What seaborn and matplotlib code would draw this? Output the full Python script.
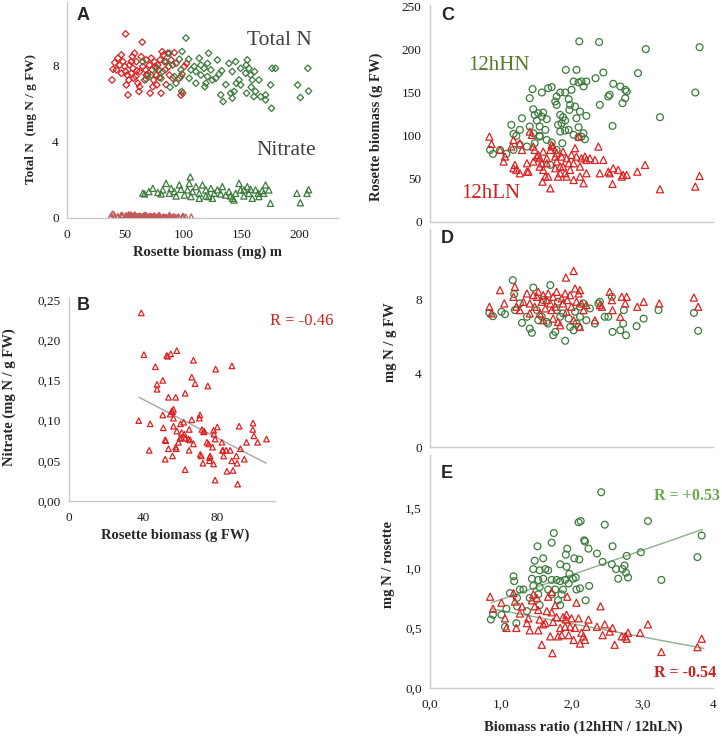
import matplotlib
matplotlib.use("Agg")
import matplotlib.pyplot as plt
import seaborn as sns

#-------------------
# data
#-------------------

# A : total N (mg N / g FW) vs rosette biomass
totn_ln_pts = [(50.4, 9.63), (64.7, 9.20), (39.6, 7.78), (38.7, 7.22), (41.0, 8.13), (43.8, 8.36), (46.7, 8.53),
               (48.1, 8.18), (49.6, 7.93), (50.4, 7.66), (51.0, 6.96), (52.4, 6.44), (53.8, 8.00), (55.3, 7.57),
               (56.2, 8.44), (56.7, 7.83), (58.1, 8.62), (59.0, 7.40), (59.6, 8.18), (60.9, 7.05), (61.8, 6.62),
               (62.4, 7.66), (63.8, 8.44), (65.2, 7.93), (66.7, 7.22), (68.1, 8.27), (69.5, 7.48), (70.9, 8.00),
               (71.5, 6.53), (73.2, 7.75), (74.4, 7.22), (75.2, 8.18), (76.7, 7.48), (77.2, 6.96), (78.0, 8.00),
               (78.9, 7.75), (79.5, 7.35), (80.9, 6.53), (81.8, 8.70), (82.9, 8.53), (83.8, 8.18), (85.2, 6.98),
               (86.6, 8.62), (88.0, 7.48), (89.5, 8.27), (90.9, 7.31), (92.3, 8.65), (93.7, 8.09), (96.6, 7.31),
               (98.9, 7.53), (100.9, 7.93), (102.8, 8.09), (98.0, 6.43), (99.4, 6.53), (46.7, 7.57), (42.5, 7.75),
               (53.2, 7.22), (57.3, 7.31), (60.1, 7.71), (67.5, 7.75), (72.4, 8.36), (76.1, 7.93), (80.1, 8.27),
               (84.4, 7.75), (87.5, 7.93), (62.4, 6.87), (73.8, 6.87), (68.1, 7.48), (55.3, 8.18), (51.8, 7.48),
               (45.3, 8.00)]
totn_hn_pts = [(68.1, 7.27), (76.6, 7.83), (82.3, 7.66), (85.2, 8.18), (88.6, 6.84), (90.9, 8.00), (93.7, 7.05),
               (98.0, 7.40), (98.6, 6.62), (102.3, 9.42), (98.9, 8.71), (104.6, 8.31), (106.6, 7.75), (110.8, 7.66),
               (113.7, 8.36), (115.1, 8.00), (117.9, 7.83), (118.5, 6.87), (120.8, 7.40), (121.7, 8.62), (123.7, 7.75),
               (127.9, 7.31), (129.3, 8.27), (133.0, 7.70), (134.2, 6.09), (136.5, 6.98), (139.3, 8.09), (142.1, 7.66),
               (143.6, 6.62), (145.6, 7.05), (147.9, 7.22), (149.3, 7.83), (145.0, 8.18), (153.6, 7.57), (155.0, 8.27),
               (154.4, 6.53), (158.4, 6.84), (159.3, 7.22), (160.7, 6.35), (162.1, 6.62), (166.4, 6.35), (170.7, 6.18),
               (175.0, 6.96), (176.4, 7.83), (179.2, 7.83), (175.8, 5.74), (170.7, 6.44), (165.0, 7.22), (161.3, 7.66),
               (156.4, 7.83), (198.3, 6.96), (200.6, 6.30), (207.7, 6.64), (207.1, 7.83), (154.1, 8.00), (132.2, 6.44),
               (142.1, 6.27), (140.8, 6.53), (125.0, 7.22), (119.4, 7.05), (115.1, 7.48), (110.8, 7.05), (98.0, 7.75),
               (92.3, 7.40), (80.9, 7.31), (72.4, 7.48), (65.2, 8.18), (96.6, 8.31), (88.0, 8.62), (120.8, 8.09),
               (130.8, 7.53), (149.3, 6.96), (157.9, 7.48), (109.4, 7.93), (105.1, 7.31)]

# A : nitrate (mg N / g FW) vs rosette biomass, 12hHN
no3_hn_pts = [(66.7, 1.26), (70.4, 1.38), (73.8, 1.55), (78.1, 1.33), (80.9, 1.26), (82.3, 1.47), (85.2, 1.81),
              (88.0, 1.29), (89.5, 1.55), (92.3, 1.38), (96.6, 1.73), (98.0, 1.50), (100.9, 1.20), (103.7, 1.47),
              (105.1, 1.81), (107.9, 1.38), (110.8, 1.64), (113.7, 1.29), (116.5, 1.73), (119.4, 1.47), (121.7, 1.12),
              (123.7, 1.55), (126.5, 1.29), (129.3, 1.47), (133.6, 1.64), (136.5, 1.20), (139.3, 1.38), (142.2, 1.03),
              (145.0, 1.29), (147.9, 1.81), (149.3, 1.47), (152.1, 1.15), (155.0, 1.64), (156.4, 1.29), (159.3, 1.03),
              (162.1, 1.47), (165.0, 1.12), (169.2, 1.29), (170.7, 1.73), (173.5, 1.47), (174.9, 0.77), (197.7, 1.29),
              (200.6, 0.80), (206.3, 1.29), (93.8, 1.15), (106.6, 1.12), (113.7, 1.03), (119.4, 1.15), (125.1, 1.03),
              (132.2, 1.26), (140.7, 1.15), (143.6, 0.94), (152.1, 1.47), (157.8, 1.50), (164.4, 1.29), (167.8, 1.43),
              (106.0, 2.15), (65.2, 1.30), (207.7, 1.48)]

# B : nitrate (mg N / g FW) vs rosette biomass, 12hLN (also the red triangles of A)
no3_ln_pts = [(39.1, 0.234), (40.5, 0.182), (46.7, 0.167), (52.9, 0.181), (53.4, 0.180), (55.0, 0.183), (58.3, 0.187),
              (67.3, 0.175), (66.4, 0.154), (68.2, 0.146), (75.1, 0.143), (79.3, 0.164), (88.1, 0.168), (50.7, 0.150),
              (47.6, 0.145), (47.6, 0.139), (53.8, 0.129), (57.7, 0.129), (62.8, 0.134), (56.5, 0.114), (56.0, 0.111),
              (50.7, 0.107), (70.8, 0.107), (37.7, 0.100), (43.9, 0.096), (54.7, 0.108), (55.6, 0.112), (56.5, 0.103),
              (60.3, 0.096), (62.0, 0.098), (66.4, 0.101), (70.5, 0.103), (51.0, 0.091), (56.5, 0.093), (58.3, 0.087),
              (60.9, 0.085), (65.0, 0.089), (71.9, 0.089), (72.8, 0.086), (78.2, 0.088), (80.2, 0.092), (92.0, 0.093),
              (99.5, 0.097), (99.4, 0.089), (100.0, 0.081), (102.0, 0.073), (106.8, 0.077), (96.0, 0.073), (52.0, 0.076),
              (60.0, 0.078), (62.8, 0.078), (43.4, 0.063), (52.3, 0.075), (52.0, 0.052), (53.8, 0.065), (56.0, 0.056),
              (57.7, 0.067), (58.0, 0.065), (59.2, 0.073), (60.9, 0.079), (62.4, 0.083), (62.8, 0.039), (64.6, 0.077),
              (64.9, 0.063), (65.5, 0.076), (67.3, 0.071), (71.0, 0.058), (71.5, 0.056), (72.4, 0.047), (73.1, 0.087),
              (74.6, 0.073), (75.5, 0.071), (76.0, 0.054), (76.3, 0.056), (76.0, 0.050), (77.6, 0.067), (78.2, 0.046),
              (79.0, 0.026), (79.0, 0.077), (78.4, 0.083), (82.7, 0.073), (83.0, 0.063), (83.3, 0.063), (83.6, 0.056),
              (85.0, 0.063), (85.4, 0.037), (87.2, 0.063), (88.0, 0.050), (88.7, 0.038), (90.5, 0.056), (90.9, 0.047),
              (91.2, 0.021), (92.7, 0.065), (94.8, 0.052)]
b_trend_x = [37.8, 106.6]
b_trend_y = [0.129, 0.047]

# C : rosette biomass vs biomass ratio
biom_hn_pts = [(2.11, 209.7), (2.39, 208.9), (3.05, 200.8), (3.81, 203.0), (1.92, 176.7), (2.07, 176.7), (2.45, 173.6),
               (2.34, 167.0), (2.94, 172.9), (2.03, 163.2), (2.10, 162.0), (2.17, 157.4), (2.21, 163.2), (2.14, 163.2),
               (2.59, 160.5), (2.69, 157.4), (2.76, 153.5), (2.78, 151.6), (2.54, 147.7), (2.52, 145.7), (2.72, 138.0),
               (2.76, 143.8), (2.40, 136.0), (3.75, 150.4), (3.25, 121.7), (2.58, 111.6), (1.41, 143.8), (1.45, 154.3),
               (1.58, 150.4), (1.67, 155.4), (1.72, 156.6), (1.79, 145.7), (1.84, 150.4), (1.91, 150.4), (1.96, 142.6),
               (2.00, 153.5), (1.98, 136.0), (1.97, 130.2), (2.05, 134.1), (2.12, 128.3), (2.07, 120.5), (2.21, 123.3),
               (1.79, 136.0), (1.77, 139.9), (1.46, 131.0), (1.48, 124.4), (1.53, 126.4), (1.58, 122.5), (1.60, 127.1),
               (1.65, 119.4), (1.51, 117.8), (1.55, 110.9), (1.63, 107.0), (1.84, 124.4), (1.88, 121.7), (1.91, 117.8),
               (1.86, 114.7), (1.81, 112.8), (1.30, 120.5), (1.15, 112.8), (1.27, 107.0), (1.18, 102.3), (1.22, 100.0),
               (1.41, 110.9), (1.46, 103.1), (1.55, 100.0), (1.65, 95.3), (1.72, 92.2), (1.84, 105.0), (1.91, 106.2),
               (1.96, 107.0), (2.03, 101.2), (2.10, 110.1), (2.17, 103.1), (2.19, 96.1), (0.85, 83.7), (0.89, 79.1),
               (0.99, 83.7), (1.18, 83.7), (1.08, 79.1), (1.27, 89.5), (1.37, 87.6), (1.48, 91.5), (1.70, 66.3),
               (1.79, 83.7), (1.87, 91.5), (2.14, 99.2), (2.10, 98.4), (1.55, 99.2)]
biom_ln_pts = [(0.84, 99.2), (0.87, 90.7), (0.99, 83.7), (1.04, 70.2), (1.06, 76.0), (1.18, 95.3), (1.15, 87.6),
               (1.20, 66.3), (1.22, 60.5), (1.27, 91.5), (1.30, 83.7), (1.37, 68.2), (1.39, 58.5), (1.41, 105.0),
               (1.44, 101.2), (1.46, 87.6), (1.48, 83.7), (1.51, 76.0), (1.53, 77.9), (1.55, 74.0), (1.58, 68.2),
               (1.59, 46.9), (1.60, 60.5), (1.63, 52.7), (1.65, 74.0), (1.67, 52.7), (1.70, 39.1), (1.72, 89.5),
               (1.74, 87.6), (1.77, 76.0), (1.79, 70.2), (1.81, 52.7), (1.84, 64.3), (1.86, 76.0), (1.88, 64.3),
               (1.91, 56.6), (1.93, 74.0), (1.96, 68.2), (1.98, 60.5), (2.00, 77.9), (2.03, 48.8), (2.05, 85.7),
               (2.07, 76.0), (2.10, 99.2), (2.12, 52.7), (2.14, 74.0), (2.17, 45.0), (2.19, 76.0), (2.21, 56.6),
               (2.26, 74.0), (2.33, 72.1), (2.38, 87.6), (2.40, 56.6), (2.45, 72.1), (2.52, 58.5), (2.54, 56.6),
               (2.58, 44.2), (2.59, 62.4), (2.66, 60.5), (2.71, 52.7), (2.73, 54.7), (2.78, 54.7), (2.93, 58.5),
               (3.04, 66.3), (3.25, 38.0), (3.75, 41.1), (3.81, 53.5), (1.18, 62.4), (1.27, 56.6), (1.37, 58.5),
               (1.46, 70.2), (1.55, 64.3), (1.65, 68.2), (1.77, 62.4), (1.84, 56.6), (1.93, 52.7), (2.03, 68.2),
               (2.12, 64.3), (2.21, 72.1), (1.88, 81.8), (1.79, 79.9), (1.70, 83.7), (1.60, 81.8)]

# D : total N (mg N / g FW) vs biomass ratio
totn_ratio_hn_pts = [(0.84, 7.26), (0.89, 7.08), (1.01, 7.32), (1.06, 7.19), (1.17, 9.03), (1.19, 8.27), (1.20, 7.41),
                     (1.30, 6.72), (1.41, 6.41), (1.44, 6.18), (1.46, 8.63), (1.51, 7.41), (1.58, 7.05), (1.65, 6.77),
                     (1.70, 8.76), (1.67, 6.68), (1.74, 6.05), (1.77, 6.23), (1.81, 7.86), (1.84, 7.05), (1.91, 5.75),
                     (1.98, 6.50), (2.03, 6.32), (2.05, 7.32), (2.07, 6.68), (2.10, 6.50), (2.12, 7.05), (2.17, 7.77),
                     (2.21, 6.86), (2.26, 7.50), (2.33, 6.68), (2.38, 7.77), (2.40, 7.86), (2.47, 7.05), (2.52, 7.05),
                     (2.57, 8.13), (2.58, 6.23), (2.69, 6.32), (2.73, 6.68), (2.74, 7.41), (2.77, 6.05), (2.92, 6.54),
                     (3.02, 6.95), (3.23, 7.41), (3.73, 7.26), (3.79, 6.29), (1.27, 7.77), (1.37, 7.05), (1.53, 6.86),
                     (1.60, 7.95), (1.79, 7.41), (1.88, 7.23), (1.96, 6.95), (2.12, 7.59)]
totn_ratio_ln_pts = [(0.84, 7.59), (0.87, 7.23), (0.99, 8.49), (1.05, 7.77), (1.18, 8.13), (1.20, 8.67), (1.22, 7.59),
                     (1.27, 7.41), (1.32, 7.86), (1.37, 8.31), (1.41, 7.77), (1.46, 8.22), (1.48, 7.59), (1.51, 8.13),
                     (1.53, 8.40), (1.55, 7.23), (1.58, 7.86), (1.60, 8.22), (1.63, 7.50), (1.65, 7.95), (1.67, 8.31),
                     (1.70, 7.77), (1.72, 7.41), (1.74, 8.13), (1.77, 7.59), (1.79, 8.40), (1.81, 6.77), (1.84, 6.59),
                     (1.86, 8.04), (1.88, 7.77), (1.91, 8.31), (1.92, 9.17), (1.94, 7.95), (1.98, 8.22), (2.03, 9.53),
                     (2.00, 7.59), (2.05, 8.58), (2.07, 7.86), (2.10, 8.31), (2.12, 8.49), (2.14, 7.77), (2.17, 7.41),
                     (2.21, 7.68), (2.33, 6.86), (2.40, 7.68), (2.43, 7.59), (2.54, 8.40), (2.57, 7.95), (2.58, 7.41),
                     (2.69, 7.05), (2.71, 8.13), (2.76, 7.77), (2.78, 8.13), (2.93, 7.59), (3.02, 7.86), (3.24, 7.77),
                     (3.73, 8.09), (3.79, 7.59), (1.41, 7.23), (1.60, 6.86), (1.74, 6.95), (1.93, 7.32), (2.03, 6.86),
                     (2.12, 6.50)]

# E : mg N per rosette vs biomass ratio
nros_hn_pts = [(2.42, 1.63), (2.10, 1.38), (2.13, 1.39), (2.47, 1.36), (3.08, 1.39), (1.75, 1.29), (1.72, 1.21),
               (1.52, 1.18), (2.18, 1.23), (2.19, 1.22), (2.24, 1.16), (2.36, 1.12), (2.58, 1.18), (1.94, 1.16),
               (2.78, 1.10), (2.98, 1.13), (3.84, 1.27), (3.78, 1.09), (3.27, 0.90), (1.92, 1.11), (2.04, 1.08),
               (2.11, 1.07), (1.60, 1.08), (1.48, 1.06), (2.44, 1.05), (2.57, 1.03), (2.63, 0.99), (2.66, 0.91),
               (2.72, 0.99), (2.75, 1.02), (2.80, 0.92), (2.77, 0.96), (1.46, 0.99), (1.55, 0.98), (1.63, 0.99),
               (1.67, 0.98), (1.84, 1.03), (1.93, 1.01), (1.97, 0.95), (2.02, 0.91), (2.06, 0.92), (1.91, 0.90),
               (1.79, 0.90), (1.72, 0.90), (1.60, 0.91), (1.53, 0.90), (1.44, 0.91), (1.18, 0.93), (1.19, 0.89),
               (1.27, 0.82), (1.32, 0.82), (1.46, 0.85), (1.55, 0.84), (1.67, 0.82), (1.77, 0.82), (1.84, 0.89),
               (1.88, 0.82), (1.96, 0.87), (2.07, 0.82), (2.12, 0.83), (2.25, 0.85), (2.20, 0.73), (1.86, 0.78),
               (1.84, 0.69), (1.81, 0.73), (1.72, 0.78), (1.53, 0.78), (1.41, 0.75), (1.23, 0.75), (1.13, 0.79),
               (1.08, 0.66), (0.89, 0.61), (0.86, 0.57), (1.01, 0.61), (1.06, 0.51), (1.22, 0.54), (1.37, 0.64),
               (1.55, 0.69), (1.23, 0.68)]
nros_ln_pts = [(0.85, 0.76), (0.89, 0.66), (1.01, 0.71), (1.06, 0.58), (1.08, 0.50), (1.18, 0.79), (1.20, 0.72),
               (1.22, 0.50), (1.27, 0.62), (1.30, 0.68), (1.37, 0.54), (1.39, 0.58), (1.41, 0.48), (1.44, 0.73),
               (1.46, 0.78), (1.48, 0.68), (1.51, 0.75), (1.53, 0.65), (1.55, 0.57), (1.58, 0.36), (1.60, 0.53),
               (1.63, 0.54), (1.65, 0.64), (1.67, 0.76), (1.70, 0.43), (1.72, 0.80), (1.74, 0.55), (1.77, 0.69),
               (1.79, 0.59), (1.81, 0.43), (1.84, 0.50), (1.86, 0.44), (1.88, 0.59), (1.91, 0.51), (1.92, 0.57),
               (1.94, 0.76), (1.96, 0.44), (1.98, 0.51), (2.00, 0.58), (2.03, 0.40), (2.05, 0.50), (2.07, 0.71),
               (2.10, 0.58), (2.12, 0.37), (2.14, 0.46), (2.17, 0.43), (2.19, 0.40), (2.21, 0.51), (2.24, 0.57),
               (2.36, 0.51), (2.41, 0.68), (2.44, 0.44), (2.47, 0.53), (2.54, 0.47), (2.58, 0.50), (2.61, 0.36),
               (2.71, 0.43), (2.76, 0.43), (2.78, 0.41), (2.80, 0.46), (2.97, 0.46), (3.08, 0.53), (3.27, 0.30),
               (3.78, 0.34), (3.84, 0.41), (1.73, 0.29), (1.53, 0.48), (1.72, 0.63), (1.93, 0.61)]
e_trend_hn_x = [0.87, 3.85]
e_trend_hn_y = [0.71, 1.32]
e_trend_ln_x = [0.87, 3.87]
e_trend_ln_y = [0.66, 0.33]

ratio_ticks = [0, 1, 2, 3, 4]
ratio_ticklabels = ["0,0", "1,0", "2,0", "3,0", "4"]
b_yticks = [0, 0.05, 0.10, 0.15, 0.20, 0.25]
b_yticklabels = ["0,00", "0,05", "0,10", "0,15", "0,20", "0,25"]
e_yticks = [0, 0.5, 1.0, 1.5]
e_yticklabels = ["0,0", "0,5", "1,0", "1,5"]

#-------------------
# style
#-------------------
W, H = 722, 737
RED = "#dc2222"
GREEN = "#3b7b3b"
RED_NO3 = "#c25a5a"
SPINE = "#cbcbcb"

sns.set_style("white")
plt.rcParams["font.family"] = ["Liberation Serif", "DejaVu Serif"]

fig = plt.figure(figsize=(W / 100, H / 100), dpi=100)


def add_ax(left, top, right, bottom):
    # axes placed by pixel edges
    return fig.add_axes([left / W, 1 - bottom / H, (right - left) / W, (bottom - top) / H])


def style(ax):
    sns.despine(ax=ax)
    for side in ("left", "bottom"):
        ax.spines[side].set_color(SPINE)
        ax.spines[side].set_linewidth(1.0)
    ax.tick_params(direction="out", length=3, width=0.8, color=SPINE,
                   labelsize=9.5, labelcolor="#1a1a1a", pad=3)
    ax.tick_params(axis="x", pad=5)


def dots(ax, pts, marker, color, s, lw=0.9):
    x = [p[0] for p in pts]
    y = [p[1] for p in pts]
    sns.scatterplot(x=x, y=y, ax=ax, marker=marker, s=s, color=color, facecolor="none",
                    edgecolor=color, linewidth=lw, legend=False, zorder=3)


def labels(ax, xlabel, ylabel, xpos, ypos, ysize=10.5):
    ax.set_xlabel(xlabel, fontsize=10.5, fontweight="bold", va="center")
    ax.set_ylabel(ylabel, fontsize=ysize, fontweight="bold", va="center")
    if xpos:
        ax.xaxis.set_label_coords(*xpos)
    ax.yaxis.set_label_coords(*ypos)


def letter(ax, txt, x, y):
    ax.text(x, y, txt, transform=ax.transAxes, fontsize=13, fontweight="bold",
            family=["Liberation Sans", "DejaVu Sans"], va="baseline", ha="left")


#-------------------
# A
#-------------------
axA = add_ax(67, 2, 338, 218)
dots(axA, totn_ln_pts, "D", RED, 11)
dots(axA, totn_hn_pts, "D", GREEN, 11)
dots(axA, no3_hn_pts, "^", GREEN, 20)
dots(axA, no3_ln_pts, "^", RED_NO3, 14)
axA.set_xlim(0, 233)
axA.set_ylim(0, 11.3)
axA.set_xticks([0, 50, 100, 150, 200])
axA.set_yticks([0, 4, 8])
style(axA)
labels(axA, "Rosette biomass (mg) m", "Total N  (mg N / g FW)", (0.52, -0.157), (-0.133, 0.46), ysize=9.5)
letter(axA, "A", 0.037, 0.917)
axA.text(0.665, 0.80, "Total N", transform=axA.transAxes, fontsize=15.5, color="#404040", va="baseline")
axA.text(0.70, 0.292, "Nitrate", transform=axA.transAxes, fontsize=15.5, color="#404040", va="baseline")

#-------------------
# B
#-------------------
axB = add_ax(69, 297, 275, 501)
dots(axB, no3_ln_pts, "^", RED, 16)
sns.lineplot(x=b_trend_x, y=b_trend_y, ax=axB, color="#a6a6a6", linewidth=1.0, zorder=2)
axB.set_xlim(0, 111.4)
axB.set_ylim(0, 0.2537)
axB.set_xticks([0, 40, 80])
axB.set_yticks(b_yticks)
axB.set_yticklabels(b_yticklabels)
style(axB)
labels(axB, "Rosette biomass (g FW)", "Nitrate (mg N / g FW)", (0.515, -0.167), (-0.29, 0.51))
letter(axB, "B", 0.039, 0.936)
axB.text(0.976, 0.863, "R = -0.46", transform=axB.transAxes, fontsize=12, color="#cc2020",
         va="baseline", clip_on=False)

#-------------------
# C
#-------------------
axC = add_ax(430, 5, 713, 222)
dots(axC, biom_hn_pts, "o", GREEN, 24)
dots(axC, biom_ln_pts, "^", RED, 26)
axC.set_xlim(0, 4)
axC.set_ylim(0, 252)
axC.set_xticks(ratio_ticks)
axC.set_xticklabels([])
axC.set_yticks([0, 50, 100, 150, 200, 250])
style(axC)
labels(axC, "", "Rosette biomass (g FW)", None, (-0.19, 0.44))
letter(axC, "C", 0.039, 0.93)
axC.text(0.134, 0.70, "12hHN", transform=axC.transAxes, fontsize=15, color="#557a2c", va="baseline")
axC.text(0.11, 0.11, "12hLN", transform=axC.transAxes, fontsize=15, color="#cc2020", va="baseline")

#-------------------
# D
#-------------------
axD = add_ax(430, 229, 713, 447)
dots(axD, totn_ratio_hn_pts, "o", GREEN, 24)
dots(axD, totn_ratio_ln_pts, "^", RED, 26)
axD.set_xlim(0, 4)
axD.set_ylim(0, 11.8)
axD.set_xticks(ratio_ticks)
axD.set_xticklabels([])
axD.set_yticks([0, 4, 8])
style(axD)
labels(axD, "", "mg N / g FW", None, (-0.141, 0.48))
letter(axD, "D", 0.039, 0.936)

#-------------------
# E
#-------------------
axE = add_ax(430, 455, 713, 688)
dots(axE, nros_hn_pts, "o", GREEN, 24)
dots(axE, nros_ln_pts, "^", RED, 26)
sns.lineplot(x=e_trend_hn_x, y=e_trend_hn_y, ax=axE, color="#8fae8f", linewidth=1.0, zorder=2)
sns.lineplot(x=e_trend_ln_x, y=e_trend_ln_y, ax=axE, color="#8fae8f", linewidth=1.0, zorder=2)
axE.set_xlim(0, 4)
axE.set_ylim(0, 1.94)
axE.set_xticks(ratio_ticks)
axE.set_xticklabels(ratio_ticklabels)
axE.set_yticks(e_yticks)
axE.set_yticklabels(e_yticklabels)
style(axE)
labels(axE, "Biomass ratio (12hHN / 12hLN)", "mg N / rosette", (0.54, -0.167), (-0.145, 0.53))
letter(axE, "E", 0.039, 0.90)
axE.text(0.79, 0.807, "R = +0.53", transform=axE.transAxes, fontsize=11.5, fontweight="bold",
         color="#6aaa4a", va="baseline", clip_on=False)
axE.text(0.79, 0.047, "R = -0.54", transform=axE.transAxes, fontsize=11.5, fontweight="bold",
         color="#cc1f1f", va="baseline", clip_on=False)

fig.savefig("out.png", dpi=100)
